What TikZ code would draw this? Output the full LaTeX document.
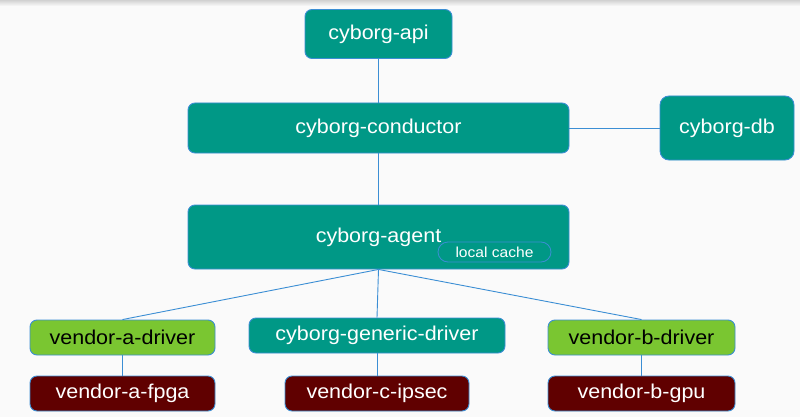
\documentclass[tikz,border=0pt]{standalone}
\usepackage{fontspec}
\setmainfont[FakeStretch=1.075]{Liberation Sans}
\definecolor{bg}{HTML}{FAFAFA}
\definecolor{teal}{HTML}{009886}
\definecolor{lime}{HTML}{7AC631}
\definecolor{maroon}{HTML}{600000}
\definecolor{edge}{HTML}{3B8ED4}
\begin{document}
\begin{tikzpicture}[x=1pt,y=-1pt,
  box/.style={draw=edge, line width=0.9pt, rounded corners=7pt, inner sep=0pt, font=\fontsize{20}{24}\selectfont},
  tealbox/.style={box, fill=teal, text=white},
  limebox/.style={box, fill=lime, text=black},
  devbox/.style={box, fill=maroon, text=white},
  pill/.style={draw=edge, line width=0.8pt, fill=teal, text=white, rounded corners=10pt, inner sep=0pt, font=\fontsize{14.5}{17}\selectfont},
  link/.style={draw=edge, line width=0.9pt}]
\fill[bg] (0,0) rectangle (800,417);
\shade[top color=black!18, bottom color=bg] (0,0) rectangle (800,6);
\useasboundingbox (0,0) rectangle (800,417);

\node[tealbox, minimum width=147pt, minimum height=49pt] (api) at (378.5,34) {cyborg-api};
\node[tealbox, minimum width=381pt, minimum height=50pt] (cond) at (378.5,128) {cyborg-conductor};
\node[tealbox, minimum width=134pt, minimum height=64pt, rounded corners=9pt] (db) at (727,128) {cyborg-db};
\node[tealbox, minimum width=381pt, minimum height=64pt] (agent) at (378.5,237) {cyborg-agent};
\node[pill, minimum width=113pt, minimum height=20pt] (cache) at (494.5,252) {local cache};

\node[limebox, minimum width=185pt, minimum height=35pt] (vad) at (122.5,337.5) {vendor-a-driver};
\node[tealbox, minimum width=256pt, minimum height=35pt] (gen) at (377,335.5) {cyborg-generic-driver};
\node[limebox, minimum width=187pt, minimum height=35pt] (vbd) at (641.5,337.5) {vendor-b-driver};

\node[devbox, minimum width=185pt, minimum height=35pt] (fpga) at (122.5,393.5) {vendor-a-fpga};
\node[devbox, minimum width=184pt, minimum height=35pt] (ipsec) at (377,393.5) {vendor-c-ipsec};
\node[devbox, minimum width=187pt, minimum height=35pt] (gpu) at (641.5,393.5) {vendor-b-gpu};

\path[link] (api.south) -- (cond.north);
\path[link] (cond.south) -- (agent.north);
\path[link] (cond.east) -- (db.west);
\path[link] (agent.south) -- (vad.north);
\path[link] (agent.south) -- (gen.north);
\path[link] (agent.south) -- (vbd.north);
\path[link] (vad.south) -- (fpga.north);
\path[link] (gen.south) -- (ipsec.north);
\path[link] (vbd.south) -- (gpu.north);
\end{tikzpicture}
\end{document}
